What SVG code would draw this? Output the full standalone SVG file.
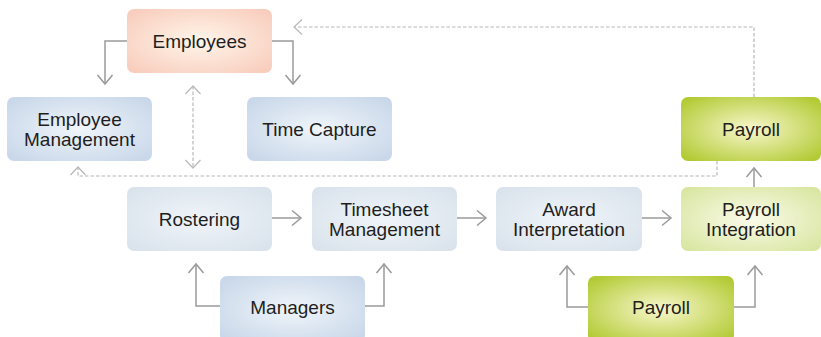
<svg xmlns="http://www.w3.org/2000/svg" width="821" height="337" viewBox="0 0 821 337">
<defs>
<radialGradient id="gPeach" cx="50%" cy="50%" r="65%"><stop offset="0" stop-color="#fff6ea"/><stop offset="1" stop-color="#f8cdbd"/></radialGradient>
<radialGradient id="gBlue" cx="50%" cy="50%" r="65%"><stop offset="0" stop-color="#f0f5fa"/><stop offset="1" stop-color="#c8d7e9"/></radialGradient>
<radialGradient id="gLBlue" cx="50%" cy="50%" r="65%"><stop offset="0" stop-color="#eff4f9"/><stop offset="1" stop-color="#dae3ec"/></radialGradient>
<radialGradient id="gGreen" cx="50%" cy="50%" r="65%"><stop offset="0" stop-color="#f8f7cc"/><stop offset="1" stop-color="#b2ca33"/></radialGradient>
<radialGradient id="gLGreen" cx="50%" cy="50%" r="65%"><stop offset="0" stop-color="#fbfbea"/><stop offset="1" stop-color="#d9e6a2"/></radialGradient>
<marker id="arr" markerUnits="userSpaceOnUse" markerWidth="20" markerHeight="20" viewBox="-10 -10 20 20" refX="0" refY="0" orient="auto-start-reverse" overflow="visible">
<path d="M-9,-7.5 L0,0 L-9,7.5" fill="none" stroke="#9a9a9a" stroke-width="1.5"/>
</marker>
<marker id="arrD" markerUnits="userSpaceOnUse" markerWidth="20" markerHeight="20" viewBox="-10 -10 20 20" refX="0" refY="0" orient="auto-start-reverse" overflow="visible">
<path d="M-8,-7.5 L0,0 L-8,7.5" fill="none" stroke="#b8b8b8" stroke-width="1.2"/>
</marker>
</defs>
<style>
.lbl{font-family:"Liberation Sans",Arial,sans-serif;font-size:19px;fill:#1e1e1e;text-anchor:middle}
.solid{fill:none;stroke:#9a9a9a;stroke-width:1.5;marker-end:url(#arr)}
.dash{fill:none;stroke:#b8b8b8;stroke-width:1.2;stroke-dasharray:3.5 2;marker-end:url(#arrD)}
</style>
<rect width="821" height="337" fill="#ffffff"/>
<g id="connectors">
<path class="solid" d="M127,41 H105 V84"/>
<path class="solid" d="M272,41 H293 V84"/>
<path class="dash" d="M193,86 V168" marker-start="url(#arrD)"/>
<path class="dash" d="M754,97 V27 H294"/>
<path class="dash" d="M717,161 V176 H78 V167"/>
<path class="solid" d="M754,187 V168"/>
<path class="solid" d="M272,218 H301"/>
<path class="solid" d="M457,218 H486"/>
<path class="solid" d="M642,218 H671"/>
<path class="solid" d="M220,306 H196 V264"/>
<path class="solid" d="M365,306 H384 V264"/>
<path class="solid" d="M588,307 H567 V266"/>
<path class="solid" d="M734,307 H755 V266"/>
</g>
<g id="employees"><rect x="127" y="9" width="145" height="64" rx="7" fill="url(#gPeach)"/><text class="lbl" x="199.5" y="48">Employees</text></g>
<g id="employee-management"><rect x="7" y="97" width="145" height="64" rx="7" fill="url(#gBlue)"/><text class="lbl" x="79.5" y="126">Employee</text><text class="lbl" x="79.5" y="146">Management</text></g>
<g id="time-capture"><rect x="247" y="97" width="145" height="64" rx="7" fill="url(#gBlue)"/><text class="lbl" x="319.5" y="136">Time Capture</text></g>
<g id="payroll-top"><rect x="681" y="97" width="140" height="64" rx="7" fill="url(#gGreen)"/><text class="lbl" x="751" y="136">Payroll</text></g>
<g id="rostering"><rect x="127" y="187" width="145" height="64" rx="7" fill="url(#gLBlue)"/><text class="lbl" x="199.5" y="226">Rostering</text></g>
<g id="timesheet-management"><rect x="312" y="187" width="145" height="64" rx="7" fill="url(#gLBlue)"/><text class="lbl" x="384.5" y="216">Timesheet</text><text class="lbl" x="384.5" y="236">Management</text></g>
<g id="award-interpretation"><rect x="496" y="187" width="146" height="64" rx="7" fill="url(#gLBlue)"/><text class="lbl" x="569" y="216">Award</text><text class="lbl" x="569" y="236">Interpretation</text></g>
<g id="payroll-integration"><rect x="681" y="187" width="140" height="64" rx="7" fill="url(#gLGreen)"/><text class="lbl" x="751" y="216">Payroll</text><text class="lbl" x="751" y="236">Integration</text></g>
<g id="managers"><rect x="220" y="276" width="145" height="66" rx="7" fill="url(#gBlue)"/><text class="lbl" x="292.5" y="314">Managers</text></g>
<g id="payroll-bottom"><rect x="588" y="276" width="146" height="66" rx="7" fill="url(#gGreen)"/><text class="lbl" x="661" y="314">Payroll</text></g>
</svg>
